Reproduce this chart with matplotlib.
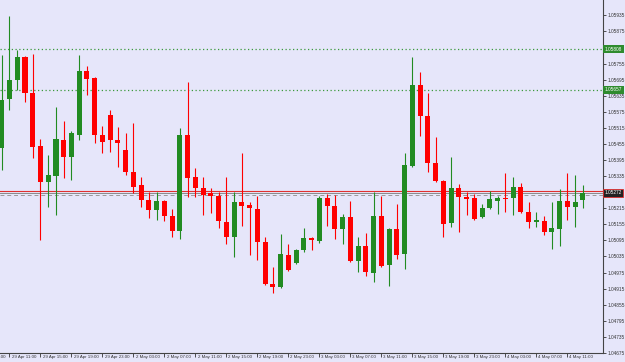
import numpy as np
import matplotlib
matplotlib.use("Agg")
import matplotlib.pyplot as plt
import matplotlib.transforms as mtrans

# hourly candles, 29 Apr 10:00 .. 4 May 12:00
opens = [1.05440, 1.05623, 1.05693, 1.05779, 1.05645, 1.05447, 1.05313, 1.05335, 1.05470, 1.05406,
         1.05488, 1.05727, 1.05701, 1.05488, 1.05563, 1.05470, 1.05432, 1.05350, 1.05302, 1.05246,
         1.05209, 1.05242, 1.05186, 1.05130, 1.05488, 1.05332, 1.05291, 1.05272, 1.05261, 1.05164,
         1.05108, 1.05238, 1.05227, 1.05212, 1.05089, 1.04933, 1.04921, 1.05041, 1.05011, 1.05059,
         1.05104, 1.05093, 1.05253, 1.05224, 1.05138, 1.05183, 1.05018, 1.05074, 1.04974, 1.05186,
         1.05003, 1.05138, 1.05044, 1.05373, 1.05675, 1.05559, 1.05384, 1.05317, 1.05160, 1.05291,
         1.05257, 1.05253, 1.05183, 1.05216, 1.05242, 1.05253, 1.05253, 1.05294, 1.05201, 1.05164,
         1.05168, 1.05127, 1.05138, 1.05242, 1.05220, 1.05246]
highs = [1.05787, 1.05932, 1.05805, 1.05783, 1.05790, 1.05473, 1.05414, 1.05593, 1.05541, 1.05503,
         1.05787, 1.05746, 1.05705, 1.05522, 1.05582, 1.05518, 1.05496, 1.05533, 1.05332, 1.05276,
         1.05276, 1.05246, 1.05212, 1.05515, 1.05686, 1.05365, 1.05332, 1.05291, 1.05276, 1.05332,
         1.05276, 1.05421, 1.05238, 1.05261, 1.05108, 1.04996, 1.05119, 1.05082, 1.05063, 1.05141,
         1.05108, 1.05261, 1.05268, 1.05265, 1.05194, 1.05242, 1.05108, 1.05123, 1.05276, 1.05261,
         1.05141, 1.05231, 1.05421, 1.05779, 1.05723, 1.05645, 1.05481, 1.05320, 1.05406, 1.05306,
         1.05276, 1.05268, 1.05231, 1.05279, 1.05261, 1.05347, 1.05332, 1.05309, 1.05238, 1.05201,
         1.05186, 1.05238, 1.05287, 1.05347, 1.05339, 1.05302]
lows = [1.05358, 1.05582, 1.05656, 1.05611, 1.05403, 1.05097, 1.05220, 1.05190, 1.05328, 1.05320,
        1.05470, 1.05638, 1.05459, 1.05421, 1.05425, 1.05369, 1.05339, 1.05272, 1.05220, 1.05179,
        1.05171, 1.05168, 1.05108, 1.05100, 1.05257, 1.05257, 1.05190, 1.05197, 1.05141, 1.05082,
        1.05033, 1.05149, 1.05041, 1.05022, 1.04929, 1.04899, 1.04918, 1.04981, 1.05007, 1.05052,
        1.05059, 1.05086, 1.05149, 1.05100, 1.05082, 1.05015, 1.04977, 1.04962, 1.04940, 1.04996,
        1.04925, 1.05026, 1.04988, 1.05369, 1.05485, 1.05350, 1.05313, 1.05108, 1.05145, 1.05127,
        1.05190, 1.05171, 1.05179, 1.05212, 1.05194, 1.05201, 1.05190, 1.05197, 1.05141, 1.05145,
        1.05115, 1.05063, 1.05074, 1.05171, 1.05145, 1.05216]
closes = [1.05619, 1.05693, 1.05779, 1.05645, 1.05444, 1.05313, 1.05339, 1.05473, 1.05406, 1.05496,
          1.05727, 1.05697, 1.05488, 1.05462, 1.05470, 1.05459, 1.05350, 1.05294, 1.05246, 1.05209,
          1.05242, 1.05186, 1.05130, 1.05488, 1.05328, 1.05291, 1.05265, 1.05261, 1.05168, 1.05108,
          1.05238, 1.05224, 1.05216, 1.05089, 1.04933, 1.04921, 1.05044, 1.04985, 1.05059, 1.05104,
          1.05097, 1.05253, 1.05224, 1.05138, 1.05183, 1.05018, 1.05074, 1.04977, 1.05186, 1.05000,
          1.05138, 1.05041, 1.05376, 1.05675, 1.05559, 1.05384, 1.05317, 1.05156, 1.05291, 1.05257,
          1.05250, 1.05175, 1.05216, 1.05250, 1.05253, 1.05250, 1.05294, 1.05201, 1.05164, 1.05171,
          1.05127, 1.05141, 1.05242, 1.05220, 1.05238, 1.05272]

time_labels = ["29 Apr 07:00", "29 Apr 11:00", "29 Apr 15:00", "29 Apr 19:00", "29 Apr 23:00",
               "2 May 03:00", "2 May 07:00", "2 May 11:00", "2 May 15:00", "2 May 19:00",
               "2 May 23:00", "3 May 03:00", "3 May 07:00", "3 May 11:00", "3 May 15:00",
               "3 May 19:00", "3 May 23:00", "4 May 03:00", "4 May 07:00", "4 May 11:00"]
first_label_bar = -3   # bar index of the first time label, one label every 4 bars

levels = [1.05808, 1.05657]   # green horizontal levels
bid = 1.05272
ask = 1.05279

bg = "#e6e6fa"
green = "#228b22"
red = "#ff0000"
txt = "#333333"
plt.rcParams['font.family'] = ['Liberation Sans', 'DejaVu Sans']

fig = plt.figure(figsize=(6.25, 3.62), dpi=100, facecolor=bg)
ax = fig.add_axes([0, 0.0235, 0.9648, 0.9765], facecolor=bg)

o = np.array(opens); h = np.array(highs); l = np.array(lows); c = np.array(closes)
x = np.arange(len(o))
up = c >= o
cols = np.where(up, green, red)

# wicks
ax.vlines(x, l, h, colors=cols, linewidth=0.8, zorder=2)
# bodies
bottom = np.minimum(o, c)
height = np.maximum(np.abs(c - o), 0.00003)
ax.bar(x, height, bottom=bottom, width=0.66, color=cols, linewidth=0, zorder=3)

# horizontal lines
for lv in levels:
    ax.axhline(lv, color="#3c9a3c", linestyle=(0, (1, 2)), linewidth=0.9, zorder=1)
ax.axhline(ask, color="#e03030", linewidth=0.8, zorder=1)
ax.axhline(bid, color="#8a8a8a", linewidth=0.7, zorder=1)
ax.axhline(1.05265, color="#9a9a9a", linestyle=(0, (4, 3)), linewidth=0.7, zorder=1)

ax.set_xlim(-0.22, 77.6)
ax.set_ylim(1.04673, 1.05992)

# y axis on the right
yt = np.round(np.arange(1.04675, 1.05936, 0.0006), 5)
yt = [v for v in yt if abs(v - 1.05815) > 1e-6 and abs(v - 1.05275) > 1e-6]
ax.yaxis.tick_right()
ax.set_yticks(yt)
ax.set_yticklabels(["%.5f" % v for v in yt])
ax.tick_params(axis="y", length=2.5, width=0.6, pad=0.8, labelsize=3.4, colors=txt)

# x axis: tick marks plus left-aligned labels
tick_bars = [first_label_bar + 4 * i for i in range(len(time_labels))]
ax.set_xticks([t for t in tick_bars if t >= 0])
ax.set_xticklabels([])
ax.tick_params(axis="x", length=3, width=0.6, direction="out", colors=txt)
off = mtrans.offset_copy(ax.get_xaxis_transform(), fig=fig, x=1.5, y=-1.0, units="points")
for tb, lab in zip(tick_bars, time_labels):
    ax.text(tb, 0, lab, transform=off, ha="left", va="top", fontsize=3.2,
            color=txt, clip_on=False)

for s in ["left", "top"]:
    ax.spines[s].set_visible(False)
ax.spines["right"].set_color("#444444")
ax.spines["right"].set_linewidth(0.8)
ax.spines["bottom"].set_color("#444444")
ax.spines["bottom"].set_linewidth(0.8)

# price labels on the axis
ytr = ax.get_yaxis_transform()
for lv in levels:
    ax.text(1.003, lv, "%.5f" % lv, transform=ytr, ha="left", va="center", fontsize=3.4,
            color="white", clip_on=False,
            bbox=dict(boxstyle="square,pad=0.3", facecolor="#2e8b2e", edgecolor="none"))
ax.text(1.003, bid, "%.5f" % bid, transform=ytr, ha="left", va="center", fontsize=3.4,
        color="white", clip_on=False,
        bbox=dict(boxstyle="square,pad=0.3", facecolor="#222222", edgecolor="#e03030", linewidth=0.6))

fig.savefig("out.png", dpi=100, facecolor=bg)
